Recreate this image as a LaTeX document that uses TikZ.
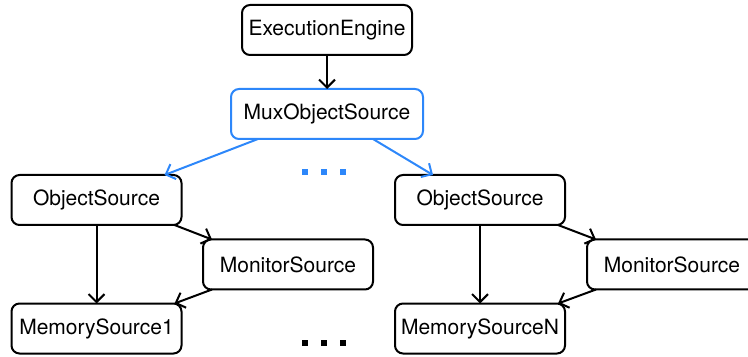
\documentclass[tikz,border=0pt]{standalone}
\usepackage{fontspec}
\setmainfont{TeX Gyre Heros}
\usetikzlibrary{positioning, arrows.meta}
\definecolor{muxblue}{RGB}{45,135,250}

\begin{document}
\begin{tikzpicture}[x=0.5pt, y=-0.5pt, line width=1pt, >={Straight Barb[length=4pt,width=8pt]}
  ]
% Box styles
\tikzstyle{src} = [draw=black, fill=white, rounded corners=4pt, minimum width=85pt, minimum height=25pt, inner sep=0pt, outer sep=0pt, font=\fontsize{10.5}{12}\selectfont, text=black]
\tikzstyle{mux} = [src, draw=muxblue, minimum width=96pt]
\tikzstyle{link} = [draw=black, ->]
\tikzstyle{muxlink} = [draw=muxblue, ->]

\useasboundingbox (0,0) rectangle (748,357);

% Blocks
\node[src] (ee) at (327,30) {ExecutionEngine};
\node[mux, below=17pt of ee] (mux) {MuxObjectSource};

\node[src] (osa) at (96.5,200) {ObjectSource};
\node[src] (mona) at (288,264.5) {MonitorSource};
\node[src] (mema) at (96.5,328.5) {MemorySource1};

\node[src] (osb) at (480,200) {ObjectSource};
\node[src] (monb) at (672,264.5) {MonitorSource};
\node[src] (memb) at (480,328.5) {MemorySourceN};

% Arrows
\draw[link] (ee) -- (mux);
\draw[muxlink] ([xshift=-34.5pt]mux.south) -- ([xshift=34pt]osa.north);
\draw[muxlink] ([xshift=23pt]mux.south) -- ([xshift=-23.5pt]osb.north);

\foreach \s in {a,b}{
  \draw[link] (os\s) -- (mem\s);
  \draw[link] ([xshift=39pt]os\s.south) -- ([xshift=-38pt]mon\s.north);
  \draw[link] ([xshift=-38pt]mon\s.south) -- ([xshift=39pt]mem\s.north);
}

% Dots between the columns
\foreach \x in {305,324,343}{
  \fill[muxblue] (\x-3,169) rectangle (\x+3,175);
  \fill[black] (\x-3,340) rectangle (\x+3,346);
}
\end{tikzpicture}
\end{document}
